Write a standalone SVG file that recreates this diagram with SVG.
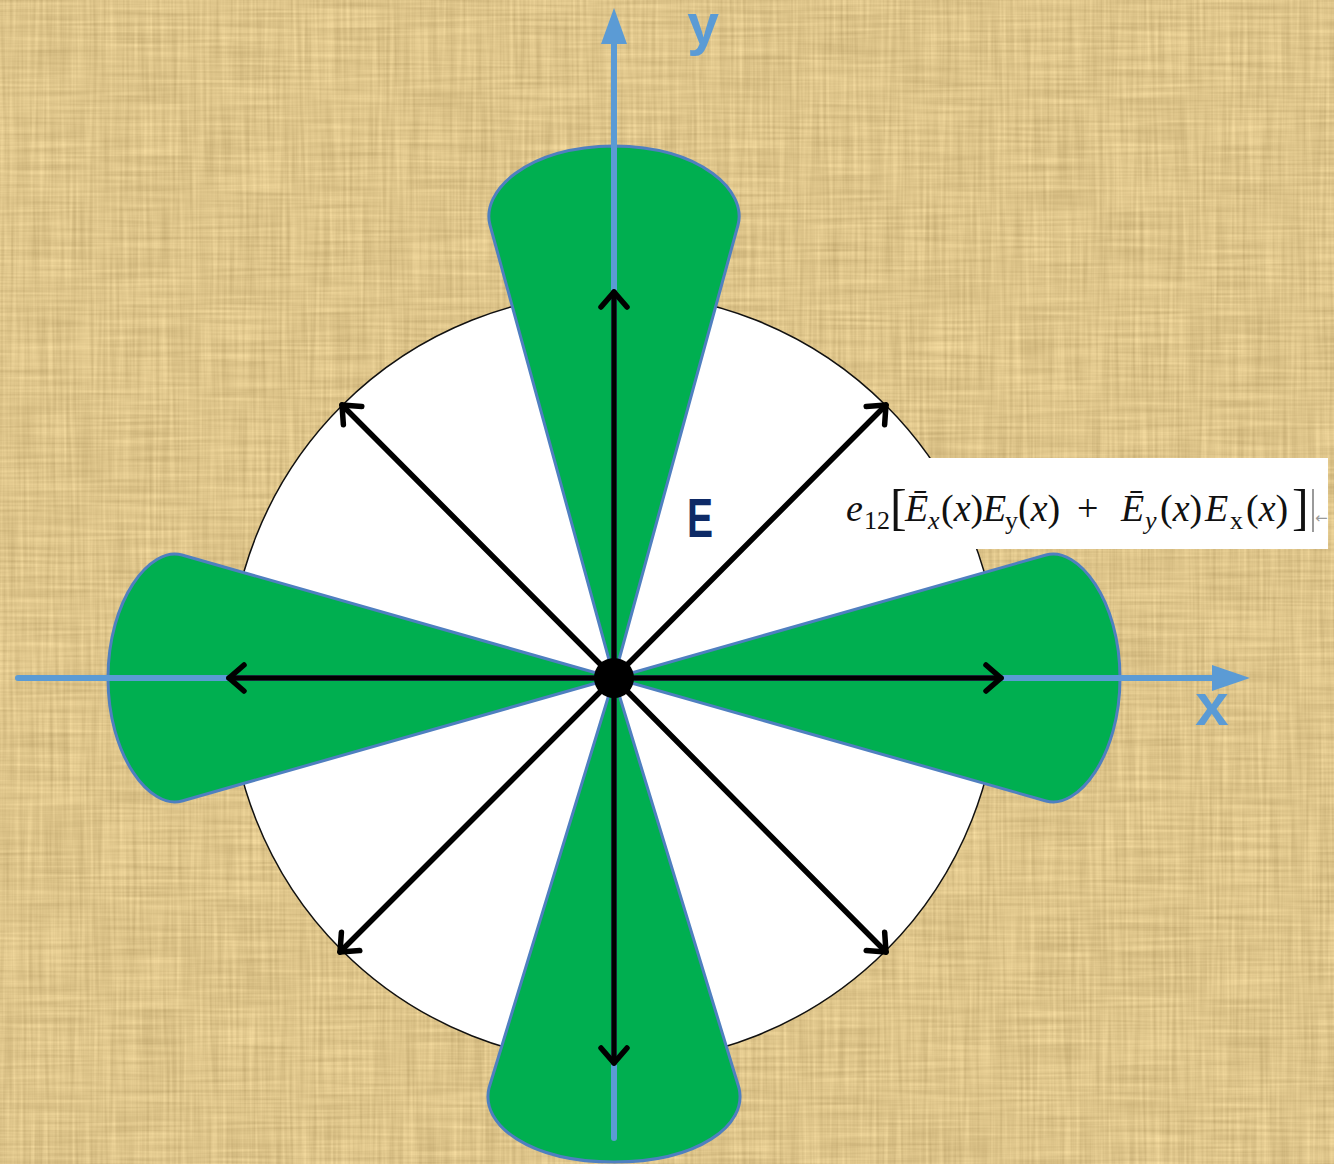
<svg xmlns="http://www.w3.org/2000/svg" width="1334" height="1164" viewBox="0 0 1334 1164">
<defs>
<style>
.lobe{fill:#00AF50;stroke:#4F7FC0;stroke-width:3;stroke-linejoin:round}
.axis{stroke:#5B9BD5;stroke-width:6;stroke-linecap:round;fill:none}
.axhead{fill:#5B9BD5}
.arr{stroke:#000;stroke-width:5.5;fill:none;stroke-linecap:round;marker-end:url(#head)}
.lbl{font-family:"Liberation Sans",Arial,sans-serif;font-weight:bold}
.m{font-family:"Liberation Serif","Times New Roman",serif;font-size:38px;fill:#111}
.i{font-style:italic}
.sub{font-size:26px}
.br{font-size:50px}
</style>
<marker id="head" markerUnits="userSpaceOnUse" orient="auto" refX="0" refY="0" markerWidth="40" markerHeight="40" viewBox="-20 -20 40 40" overflow="visible">
<path d="M-15,-13 L0,0 L-15,13" fill="none" stroke="#000" stroke-width="5.5" stroke-linecap="round" stroke-linejoin="round"/>
</marker>
<filter id="tex" x="0" y="0" width="100%" height="100%" color-interpolation-filters="sRGB">
<feTurbulence type="fractalNoise" baseFrequency="0.3 0.01" numOctaves="2" seed="3" result="v"/>
<feColorMatrix in="v" type="matrix" values="1 0 0 0 0 0 1 0 0 0 0 0 1 0 0 0 0 0 0 1" result="v1"/>
<feTurbulence type="fractalNoise" baseFrequency="0.01 0.3" numOctaves="2" seed="9" result="h"/>
<feColorMatrix in="h" type="matrix" values="1 0 0 0 0 0 1 0 0 0 0 0 1 0 0 0 0 0 0 1" result="h1"/>
<feComposite in="v1" in2="h1" operator="arithmetic" k1="0" k2="0.5" k3="0.5" k4="0" result="c"/>
<feColorMatrix in="c" type="matrix" values="0.3 0 0 0 0.72  0.3 0 0 0 0.62  0.28 0 0 0 0.4  0 0 0 0 1"/>
</filter>
</defs>

<g id="background">
<rect width="1334" height="1164" fill="#DCC389"/>
<rect width="1334" height="1164" filter="url(#tex)"/>
</g>

<g id="disc">
<circle cx="614" cy="678" r="385" fill="#FFFFFF" stroke="#111" stroke-width="1.5"/>
</g>

<g id="lobes">
<path id="lobe-top" class="lobe" d="M614,678 L490,225 C481,192 525,147 614,146 C703,147 747,192 738,225 Z"/>
<path id="lobe-bottom" class="lobe" d="M614,678 L489,1088 C480,1125 530,1162 614,1162 C698,1162 748,1125 739,1088 Z"/>
<path id="lobe-left" class="lobe" d="M614,678 L182,555 C150,546 108,600 108,678 C108,756 150,810 182,801 Z"/>
<path id="lobe-right" class="lobe" d="M614,678 L1046,555 C1078,546 1120,600 1120,678 C1120,756 1078,810 1046,801 Z"/>
</g>

<g id="axes">
<line class="axis" x1="18" y1="678" x2="1214" y2="678"/>
<polygon class="axhead" points="1250,678 1212,665 1212,691"/>
<line class="axis" x1="614" y1="1138" x2="614" y2="42"/>
<polygon class="axhead" points="614,8 601,44 627,44"/>
</g>

<g id="center">
<circle cx="614" cy="678" r="20" fill="#000"/>
</g>

<g id="connectors">
<line class="arr" x1="614" y1="680" x2="614" y2="292"/>
<line class="arr" x1="614" y1="696" x2="614" y2="1063"/>
<line class="arr" x1="614" y1="678" x2="229" y2="678"/>
<line class="arr" x1="614" y1="678" x2="1001" y2="678"/>
<line class="arr" x1="614" y1="678" x2="886" y2="405"/>
<line class="arr" x1="614" y1="678" x2="342" y2="405"/>
<line class="arr" x1="614" y1="678" x2="340" y2="952"/>
<line class="arr" x1="614" y1="678" x2="886" y2="952"/>
</g>

<g id="labels">
<text class="lbl" x="703" y="44" font-size="57" fill="#5B9BD5" text-anchor="middle">y</text>
<text class="lbl" x="1212" y="725" font-size="60" fill="#5B9BD5" text-anchor="middle">x</text>
<text class="lbl" x="687" y="537" font-size="56" fill="#0E2A66" textLength="26" lengthAdjust="spacingAndGlyphs">E</text>
</g>

<g id="formula">
<rect x="838" y="458" width="490" height="91" fill="#FFFFFF"/>
<text class="m i" x="846" y="521">e</text>
<text class="m sub" x="864" y="529">12</text>
<text class="m br" x="890" y="524">[</text>
<text class="m i" x="905" y="521">Ē</text>
<text class="m i sub" x="928" y="529">x</text>
<text class="m" x="941" y="521">(<tspan class="i">x</tspan>)</text>
<text class="m i" x="983" y="521">E</text>
<text class="m sub" x="1005" y="529">y</text>
<text class="m" x="1018" y="521">(<tspan class="i">x</tspan>)</text>
<text class="m" x="1077" y="521">+</text>
<text class="m i" x="1121" y="521">Ē</text>
<text class="m i sub" x="1145" y="529">y</text>
<text class="m" x="1160" y="521">(<tspan class="i">x</tspan>)</text>
<text class="m i" x="1205" y="521">E</text>
<text class="m sub" x="1230" y="529">x</text>
<text class="m" x="1246" y="521">(<tspan class="i">x</tspan>)</text>
<text class="m br" x="1292" y="524">]</text>
<line x1="1313" y1="489" x2="1313" y2="532" stroke="#9A9A9A" stroke-width="2"/>
<text x="1315" y="523" font-family="DejaVu Sans,sans-serif" font-size="15" fill="#9A9A9A">←</text>
</g>
</svg>
